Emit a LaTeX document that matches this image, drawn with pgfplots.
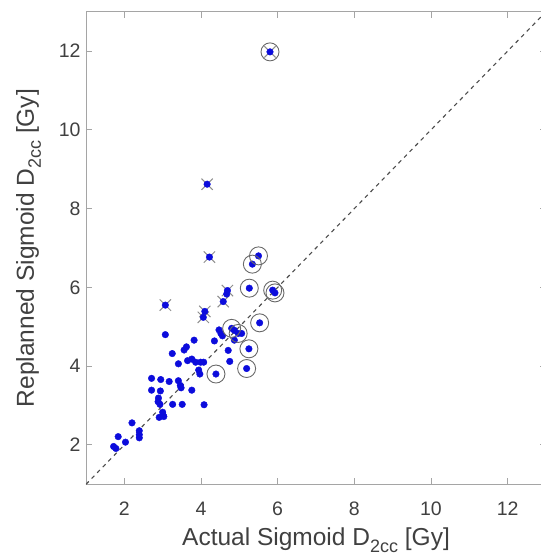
\documentclass[border=0pt]{standalone}
\usepackage{fontspec}
\setmainfont{Liberation Sans}
\usepackage{pgfplots}
\pgfplotsset{compat=1.18}
\definecolor{dotblue}{RGB}{12,12,220}
\definecolor{axgray}{RGB}{165,165,165}
\definecolor{txtgray}{RGB}{64,64,64}
\definecolor{mkgray}{RGB}{105,105,105}
\newcommand{\sub}[1]{\raisebox{-0.55ex}{\fontsize{18}{18}\selectfont #1}}
\begin{document}
\begin{tikzpicture}
\useasboundingbox (-86pt,-73.7pt) rectangle (455pt,484.3pt);
\clip (-86pt,-73.7pt) rectangle (455pt,484.3pt);
\begin{axis}[
  scale only axis, width=460pt, height=472.6pt,
  xmin=1, xmax=13, ymin=1, ymax=13,
  xtick={2,4,6,8,10,12}, ytick={2,4,6,8,10,12},
  tick align=inside, tick pos=both,
  major tick length=6pt,
  axis line style={draw=axgray, line width=0.9pt},
  every tick/.style={draw=axgray, line width=0.9pt},
  /pgf/number format/assume math mode=true,
  tick label style={font=\fontsize{19.5}{20}\selectfont, text=txtgray},
  xticklabel style={anchor=base, yshift=-31pt},
  yticklabel style={xshift=-2pt},
  label style={font=\fontsize{24.5}{27}\selectfont, text=txtgray},
  xlabel={Actual Sigmoid D\sub{2cc} [Gy]},
  ylabel={Replanned Sigmoid D\sub{2cc} [Gy]},
  xlabel style={at={(axis description cs:0.5,-0.129)}, anchor=base},
  ylabel style={at={(axis description cs:-0.09,0.5)}, anchor=south},
  clip=true,
]
\addplot[draw=black!70, line width=1.1pt, dash pattern=on 4pt off 4pt] coordinates {(1,1) (13,13)};
% x-marked points
\addplot[only marks, mark=x, mark size=8pt, mark options={draw=mkgray!75, line width=1pt}] table {
5.80 11.98
4.16 8.62
4.22 6.77
4.69 5.92
4.58 5.64
3.07 5.55
4.10 5.39
4.06 5.24
};
% all points
\addplot[only marks, mark=*, mark size=3.3pt, mark options={draw=dotblue, fill=dotblue}] table {
5.80 11.98
4.16 8.62
4.22 6.77
5.50 6.80
5.34 6.59
5.26 5.98
5.87 5.93
5.93 5.86
4.69 5.92
4.67 5.83
4.58 5.64
3.07 5.55
4.10 5.39
4.06 5.24
5.53 5.10
4.80 4.96
4.87 4.91
4.97 4.83
5.06 4.83
4.47 4.92
4.52 4.83
4.56 4.77
4.87 4.66
4.35 4.64
3.82 4.66
3.07 4.80
3.62 4.49
3.56 4.41
3.25 4.32
4.71 4.40
5.25 4.44
4.75 4.12
3.41 4.06
3.65 4.14
3.76 4.18
3.86 4.10
3.99 4.10
4.07 4.10
3.94 3.90
3.97 3.80
5.19 3.94
4.39 3.80
2.71 3.69
2.95 3.66
3.17 3.61
3.41 3.63
3.46 3.51
3.48 3.45
2.71 3.39
2.94 3.37
3.76 3.39
2.89 3.19
2.88 3.10
2.93 3.03
3.26 3.03
3.51 3.03
4.08 3.02
3.00 2.83
3.01 2.76
2.91 2.70
3.03 2.72
2.20 2.56
2.39 2.36
2.39 2.26
2.39 2.18
1.84 2.21
2.03 2.07
1.72 1.96
1.78 1.91
};
% circled points
\addplot[only marks, mark=o, mark size=9pt, mark options={draw=mkgray, line width=0.9pt}] table {
5.80 11.98
5.50 6.80
5.34 6.59
5.26 5.98
5.87 5.93
5.93 5.86
5.53 5.10
4.80 4.96
4.97 4.83
5.25 4.44
5.19 3.94
4.39 3.80
};
\end{axis}
\end{tikzpicture}
\end{document}
